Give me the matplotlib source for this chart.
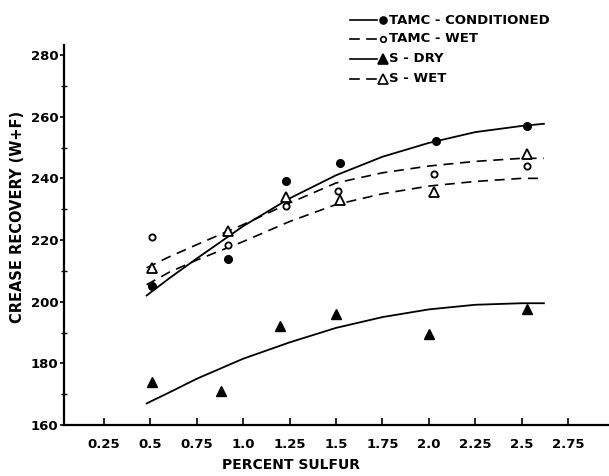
import matplotlib
matplotlib.use("Agg")
import matplotlib.pyplot as plt
from matplotlib.lines import Line2D
from matplotlib.ticker import FixedLocator, MultipleLocator

plt.rcParams['font.family'] = ['DejaVu Sans']
plt.rcParams['font.weight'] = 'bold'

# measured points, percent sulfur vs crease recovery (W+F)
tamc_cond_x = [0.51, 0.92, 1.23, 1.52, 2.04, 2.53]
tamc_cond_y = [205, 214, 239, 245, 252, 257]
tamc_wet_x = [0.51, 0.92, 1.23, 1.51, 2.03, 2.53]
tamc_wet_y = [221, 218.5, 231, 236, 241.5, 244]
s_dry_x = [0.51, 0.88, 1.20, 1.50, 2.00, 2.53]
s_dry_y = [174, 171, 192, 196, 189.5, 197.5]
s_wet_x = [0.51, 0.92, 1.23, 1.52, 2.03, 2.53]
s_wet_y = [211, 223, 234, 233, 235.5, 248]

# hand-drawn trend curves
curve_x = [0.48, 0.6, 0.75, 1.0, 1.25, 1.5, 1.75, 2.0, 2.25, 2.5, 2.62]
tamc_cond_fit = [202, 207.5, 214, 224.5, 233.5, 241, 247, 251.5, 255, 257, 257.7]
tamc_wet_fit = [205.5, 209.5, 213.5, 219.5, 226, 231.5, 235, 237.5, 239, 240, 240]
s_dry_fit = [167, 170.5, 175, 181.5, 186.8, 191.5, 195, 197.5, 199, 199.5, 199.5]
s_wet_fit = [211, 214.5, 218.5, 225, 232, 238.5, 241.8, 244, 245.5, 246.5, 246.5]

xticks = [0.25, 0.5, 0.75, 1.0, 1.25, 1.5, 1.75, 2.0, 2.25, 2.5, 2.75]
xtick_labels = ["0.25", "0.5", "0.75", "1.0", "1.25", "1.5", "1.75", "2.0", "2.25", "2.5", "2.75"]
yticks = [160, 180, 200, 220, 240, 260, 280]

fig = plt.figure(figsize=(6.09, 4.76), dpi=100)
ax = fig.add_axes([0.1051, 0.1071, 0.895, 0.798])

dash = (6, 4)
ax.plot(curve_x, tamc_cond_fit, color='black', lw=1.3)
ax.plot(curve_x, tamc_wet_fit, color='black', lw=1.2, dashes=dash)
ax.plot(curve_x, s_dry_fit, color='black', lw=1.3)
ax.plot(curve_x, s_wet_fit, color='black', lw=1.2, dashes=dash)

ax.plot(tamc_cond_x, tamc_cond_y, 'o', color='black', ms=5.5, ls='none')
ax.plot(tamc_wet_x, tamc_wet_y, 'o', mfc='white', mec='black', mew=1.3, ms=4.5, ls='none')
ax.plot(s_dry_x, s_dry_y, '^', color='black', ms=7, ls='none')
ax.plot(s_wet_x, s_wet_y, '^', mfc='white', mec='black', mew=1.3, ms=7, ls='none')

ax.set_xlim(0.035, 2.971)
ax.set_ylim(160, 283.2)
for side in ('top', 'right'):
    ax.spines[side].set_visible(False)
for side in ('left', 'bottom'):
    ax.spines[side].set_linewidth(1.6)

ax.xaxis.set_major_locator(FixedLocator(xticks))
ax.set_xticklabels(xtick_labels)
ax.yaxis.set_major_locator(FixedLocator(yticks))
ax.yaxis.set_minor_locator(MultipleLocator(10))
ax.tick_params(axis='x', direction='in', length=5, width=1.2, pad=9, labelsize=9.5)
ax.tick_params(axis='y', which='major', direction='out', length=3, width=1.2, pad=1, labelsize=9.5)
ax.tick_params(axis='y', which='minor', direction='inout', length=4, width=1.0)

ax.set_ylabel("CREASE RECOVERY (W+F)", fontsize=10.5, fontweight='bold')
ax.yaxis.set_label_coords(-0.0716, 0.547)
ax.set_xlabel("PERCENT SULFUR", fontsize=10, fontweight='bold')
ax.xaxis.set_label_coords(0.416, -0.088)

# key in the upper right corner
W, H = 609.0, 476.0
rows = [
    ("TAMC - CONDITIONED", '-', 'o', 'black', 20),
    ("TAMC - WET", '--', 'o', 'white', 39),
    ("S - DRY", '-', '^', 'black', 59),
    ("S - WET", '--', '^', 'white', 79),
]
for label, ls, mk, fc, ypx in rows:
    yf = 1 - ypx / H
    if ls == '-':
        fig.add_artist(Line2D([350 / W, 377 / W], [yf, yf], color='black', lw=1.2,
                              transform=fig.transFigure))
    else:
        for x0 in (350, 367):
            fig.add_artist(Line2D([x0 / W, (x0 + 9) / W], [yf, yf], color='black', lw=1.2,
                                  transform=fig.transFigure))
    ms = 5 if mk == 'o' else 6.5
    if fc == 'white' and mk == 'o':
        ms = 4
    fig.add_artist(Line2D([383 / W], [yf], marker=mk, ms=ms, mfc=fc, mec='black', mew=1.2,
                          ls='none', transform=fig.transFigure))
    fig.text(389 / W, yf, label, fontsize=9.5, va='center', ha='left')

fig.savefig("out.png", dpi=100)
